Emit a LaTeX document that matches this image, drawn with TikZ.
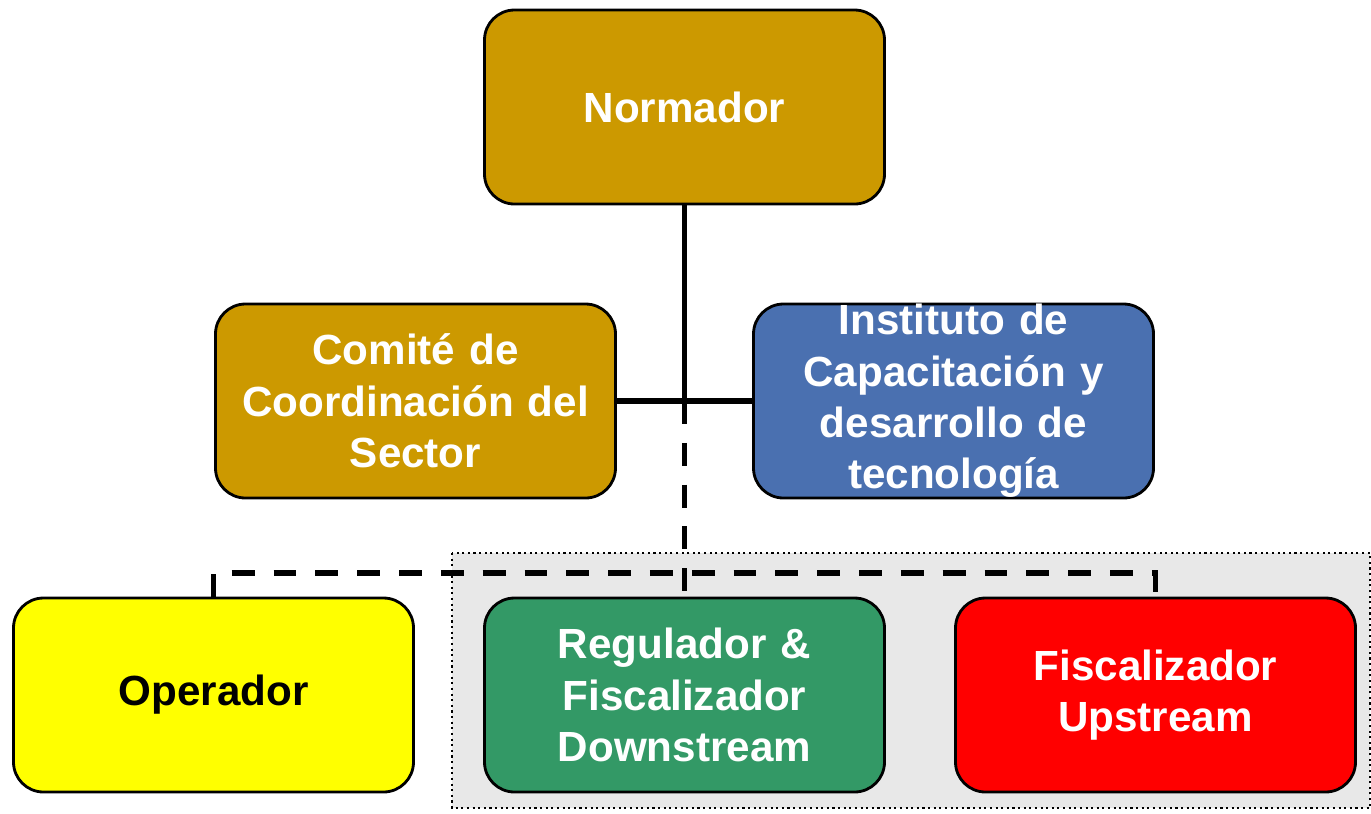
\documentclass[tikz,border=0pt]{standalone}
\usepackage{fontspec}
\setmainfont{Liberation Sans}
\usepackage{tikz}
\usetikzlibrary{calc}
\definecolor{gold}{HTML}{CC9900}
\definecolor{steel}{HTML}{4A70B0}
\definecolor{sea}{HTML}{339966}
\definecolor{lemon}{HTML}{FFFF00}
\definecolor{bgray}{HTML}{E8E8E8}

\begin{document}
\begin{tikzpicture}[
    unit/.style={draw=black,line width=0.8pt,rounded corners=0.3cm,
      minimum width=4.0cm,minimum height=1.94cm,text width=3.75cm,
      align=center,inner ysep=0pt,text=white,
      font=\fontsize{12pt}{14.6pt}\selectfont\bfseries},
    link/.style={line width=1.6pt},
    dlink/.style={line width=1.5pt,dash pattern=on 6.5pt off 5.4pt}]
  \useasboundingbox (0,0) rectangle (13.71,-8.13);
  \draw[fill=bgray,densely dotted,line width=0.6pt] (4.52,-5.53) rectangle (13.70,-8.08);
  \node[unit,fill=gold] (norm) at (6.845,-1.07) {Normador};
  \node[unit,fill=gold] (comite) at (4.155,-4.01) {Comité de\\Coordinación del\\Sector};
  \node[unit,fill=steel] (inst) at (9.535,-4.01) {Instituto de\\Capacitación y\\desarrollo de\\tecnología};
  \node[unit,fill=lemon,text=black] (op) at (2.135,-6.95) {Operador};
  \node[unit,fill=sea] (reg) at (6.845,-6.95) {Regulador \&\\Fiscalizador\\Downstream};
  \node[unit,fill=red] (fisc) at (11.555,-6.95) {Fiscalizador\\Upstream};
  \coordinate (hub) at (norm.south |- comite.east);
  \coordinate (bus) at (6.845,-5.73);
  \draw[link] (norm.south) -- (hub);
  \draw[link] (comite.east) -- (inst.west);
  \draw[dlink] (hub) -- (reg.north);
  \draw[dlink] (op.north) |- (bus) -| (fisc.north);
\end{tikzpicture}
\end{document}
